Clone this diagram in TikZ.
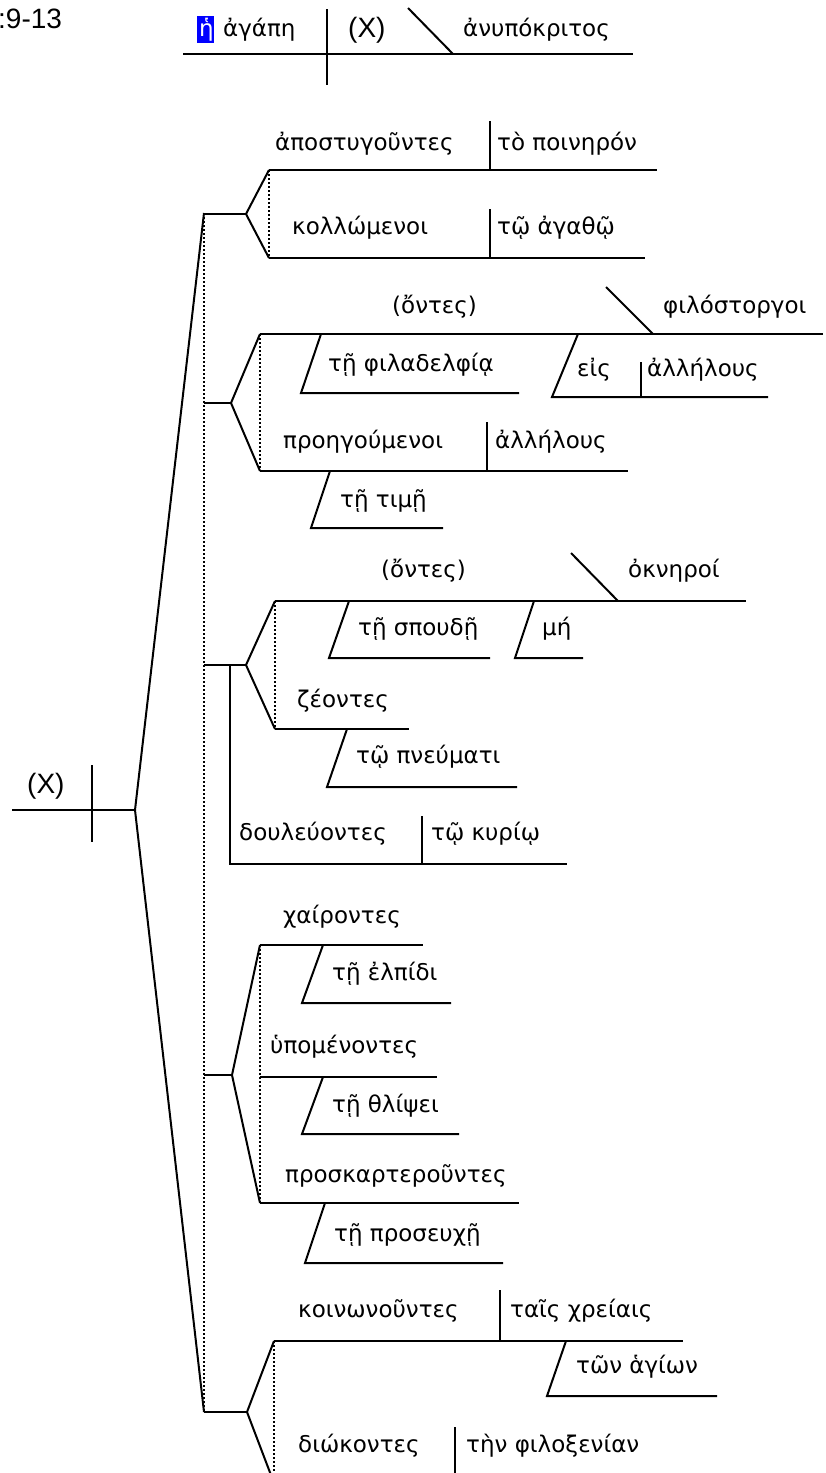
\documentclass[tikz,border=0pt]{standalone}
\usepackage{fontspec}
\setmainfont{DejaVu Sans}
\newfontfamily\grk{DejaVu Sans}
\newfontfamily\arl{Liberation Sans}
\tikzset{
  ln/.style={line width=2pt, line cap=butt},
  dt/.style={line width=1.2pt, dash pattern=on 2pt off 2pt},
  gk/.style={font=\grk\fontsize{23}{27}\selectfont, inner sep=0pt, text height=17.2pt, text depth=5.8pt, anchor=west},
  ar/.style={font=\arl\fontsize{28}{32}\selectfont, inner sep=0pt, anchor=base west}
}
\begin{document}
\begin{tikzpicture}[x=1pt,y=-1pt]
\useasboundingbox (0,0) rectangle (825,1473);
\clip (0,0) rectangle (825,1473);
% title
\node[ar] (ref) at (-2,28) {:9-13};
% top clause
\draw[ln] (183,54) -- (633,54);
\draw[ln] (327,9) -- (327,85);
\draw[ln] (408,8) -- (453,54);
\fill[blue] (197,16) rectangle (214,43);
\node[gk, text=white] (he) at (199,31) {ἡ};
\node[gk] (agape) at (223,31) {ἀγάπη};
\node[ar] (X1) at (348,37) {(X)};
\node[gk] (anup) at (463,31) {ἀνυπόκριτος};
% main trunk
\draw[ln] (12,810) -- (135,810);
\draw[ln] (92,765) -- (92,842);
\node[ar] (X2) at (27,793) {(X)};
\draw[ln] (204,213) -- (135,810) -- (204,1412);
\draw[dt] (204,213) -- (204,1412);
% group 1
\draw[ln] (204,214) -- (246,214);
\draw[ln] (269,170) -- (246,214) -- (269,258);
\draw[dt] (269,170) -- (269,258);
\draw[ln] (269,170) -- (657,170);
\draw[ln] (490,121) -- (490,170);
\node[gk] (apo) at (275,145) {ἀποστυγοῦντες};
\node[gk] (pon) at (497,145) {τὸ ποινηρόν};
\draw[ln] (269,258) -- (645,258);
\draw[ln] (490,209) -- (490,258);
\node[gk] (kol) at (292,229) {κολλώμενοι};
\node[gk] (aga) at (497,229) {τῷ ἀγαθῷ};
% group 2
\draw[ln] (204,403) -- (231,403);
\draw[ln] (260,334) -- (231,403) -- (260,471);
\draw[dt] (260,334) -- (260,471);
\draw[ln] (260,334) -- (823,334);
\node[gk] (ont1) at (392,308) {(ὄντες)};
\draw[ln] (606,287) -- (653,334);
\node[gk] (philo) at (663,308) {φιλόστοργοι};
\draw[ln] (321,334) -- (301,393) -- (519,393);
\node[gk] (phad) at (328,366) {τῇ φιλαδελφίᾳ};
\draw[ln] (578,334) -- (552,397) -- (768,397);
\draw[ln] (641,362) -- (641,397);
\node[gk] (eis) at (577,371) {εἰς};
\node[gk] (all1) at (647,371) {ἀλλήλους};
\draw[ln] (260,471) -- (628,471);
\draw[ln] (487,422) -- (487,471);
\node[gk] (proh) at (283,443) {προηγούμενοι};
\node[gk] (all2) at (495,443) {ἀλλήλους};
\draw[ln] (330,471) -- (311,528) -- (443,528);
\node[gk] (tim) at (340,502) {τῇ τιμῇ};
% group 3
\draw[ln] (204,665) -- (246,665);
\draw[ln] (230,665) -- (230,864) -- (567,864);
\draw[ln] (275,601) -- (246,665) -- (275,729);
\draw[dt] (275,601) -- (275,729);
\draw[ln] (275,601) -- (746,601);
\node[gk] (ont2) at (381,572) {(ὄντες)};
\draw[ln] (571,553) -- (618,601);
\node[gk] (okn) at (628,572) {ὀκνηροί};
\draw[ln] (349,601) -- (329,658) -- (490,658);
\node[gk] (spou) at (358,630) {τῇ σπουδῇ};
\draw[ln] (534,601) -- (515,658) -- (583,658);
\node[gk] (me) at (542,630) {μή};
\draw[ln] (275,729) -- (409,729);
\node[gk] (zeo) at (297,702) {ζέοντες};
\draw[ln] (347,729) -- (327,787) -- (517,787);
\node[gk] (pneu) at (356,758) {τῷ πνεύματι};
\draw[ln] (422,816) -- (422,864);
\node[gk] (doul) at (239,835) {δουλεύοντες};
\node[gk] (kyr) at (431,835) {τῷ κυρίῳ};
% group 4
\draw[ln] (204,1075) -- (232,1075);
\draw[ln] (260,945) -- (232,1075) -- (260,1203);
\draw[dt] (260,945) -- (260,1203);
\draw[ln] (260,945) -- (423,945);
\node[gk] (xai) at (283,918) {χαίροντες};
\draw[ln] (323,945) -- (302,1003) -- (451,1003);
\node[gk] (elp) at (332,975) {τῇ ἐλπίδι};
\draw[ln] (260,1077) -- (437,1077);
\node[gk] (hyp) at (270,1048) {ὑπομένοντες};
\draw[ln] (323,1077) -- (302,1134) -- (459,1134);
\node[gk] (thl) at (332,1107) {τῇ θλίψει};
\draw[ln] (260,1203) -- (519,1203);
\node[gk] (pros) at (285,1177) {προσκαρτεροῦντες};
\draw[ln] (325,1203) -- (305,1263) -- (503,1263);
\node[gk] (proseu) at (334,1236) {τῇ προσευχῇ};
% group 5
\draw[ln] (204,1412) -- (247,1412);
\draw[ln] (274,1341) -- (247,1412) -- (274,1483);
\draw[dt] (274,1341) -- (274,1483);
\draw[ln] (274,1341) -- (683,1341);
\draw[ln] (500,1290) -- (500,1341);
\node[gk] (koin) at (298,1312) {κοινωνοῦντες};
\node[gk] (xrei) at (510,1312) {ταῖς χρείαις};
\draw[ln] (566,1341) -- (547,1396) -- (717,1396);
\node[gk] (hag) at (576,1368) {τῶν ἁγίων};
\draw[ln] (455,1427) -- (455,1483);
\node[gk] (diok) at (298,1447) {διώκοντες};
\node[gk] (phil) at (466,1447) {τὴν φιλοξενίαν};
\end{tikzpicture}
\end{document}
